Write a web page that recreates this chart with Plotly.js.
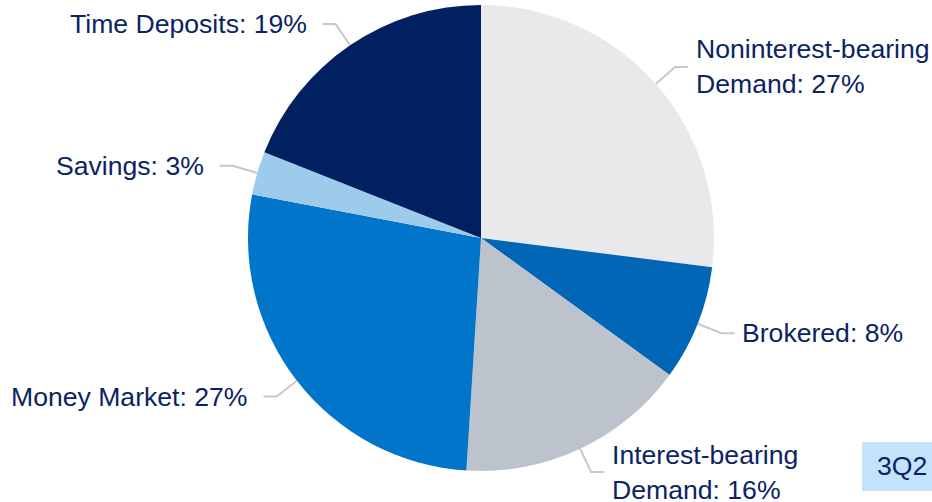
<!DOCTYPE html>
<html>
<head>
<meta charset="utf-8">
<script src="https://cdn.plot.ly/plotly-3.0.1.min.js"></script>
<style>html,body{margin:0;padding:0;background:#fff;}#chart{width:932px;height:502px;}</style>
</head>
<body>
<div id="chart"></div>
<script>
// ---- data ----
const labels = ["Noninterest-bearing<br>Demand", "Brokered", "Interest-bearing<br>Demand", "Money Market", "Savings", "Time Deposits"];
const values = [27, 8, 16, 27, 3, 19];
const colors = ["#E9E9EB", "#0066B5", "#BDC3CC", "#0075CA", "#9DCBEC", "#00205F"];
const periodLabel = "3Q2";

// ---- layout constants ----
const W = 932, H = 502;
const CX = 481, CY = 238, R = 233;
const ELBOW = 1.11, HSEG = 13;
const textColor = "#0A2463";
const lineColor = "#C8C8C8";
const fontFam = "Liberation Sans, Arial, sans-serif";
const fontSize = 26.6;

const px = x => x / W;
const py = y => 1 - y / H;

const total = values.reduce((a, b) => a + b, 0);
const shapes = [];
const annotations = [];
let cum = 0;
values.forEach((v, i) => {
  const mid = (cum + v / 2) / total * 2 * Math.PI;
  cum += v;
  const dx = Math.sin(mid), dy = -Math.cos(mid);
  const x0 = CX + dx * R, y0 = CY + dy * R;
  const x1 = CX + dx * R * ELBOW, y1 = CY + dy * R * ELBOW;
  const right = dx >= 0;
  const x2 = x1 + (right ? HSEG : -HSEG);
  shapes.push({
    type: "path", xref: "paper", yref: "paper",
    path: `M ${px(x0)} ${py(y0)} L ${px(x1)} ${py(y1)} L ${px(x2)} ${py(y1)}`,
    line: {color: lineColor, width: 2}
  });
  annotations.push({
    xref: "paper", yref: "paper",
    x: px(x2 + (right ? 6 : -14)), y: py(y1),
    xanchor: right ? "left" : "right", yanchor: "middle",
    align: right ? "left" : "right",
    showarrow: false,
    text: labels[i] + ": " + Math.round(v / total * 100) + "%",
    font: {family: fontFam, size: fontSize, color: textColor}
  });
});

// period tag
shapes.push({
  type: "rect", xref: "paper", yref: "paper",
  x0: px(862), x1: px(940), y0: py(491), y1: py(442),
  fillcolor: "#C3E2FB", line: {width: 0}
});
annotations.push({
  xref: "paper", yref: "paper", x: px(875), y: py(466),
  xanchor: "left", yanchor: "middle", showarrow: false,
  text: periodLabel,
  font: {family: fontFam, size: fontSize, color: textColor}
});

const trace = {
  type: "pie",
  labels: labels,
  values: values,
  sort: false,
  direction: "clockwise",
  rotation: 0,
  textinfo: "none",
  hoverinfo: "label+percent",
  marker: {colors: colors, line: {width: 0}},
  domain: {x: [px(CX - R), px(CX + R)], y: [py(CY + R), py(CY - R)]},
  showlegend: false
};

const layout = {
  width: W, height: H,
  margin: {l: 0, r: 0, t: 0, b: 0},
  paper_bgcolor: "#ffffff",
  showlegend: false,
  shapes: shapes,
  annotations: annotations
};

Plotly.newPlot("chart", [trace], layout, {displayModeBar: false, staticPlot: true});
</script>
</body>
</html>
